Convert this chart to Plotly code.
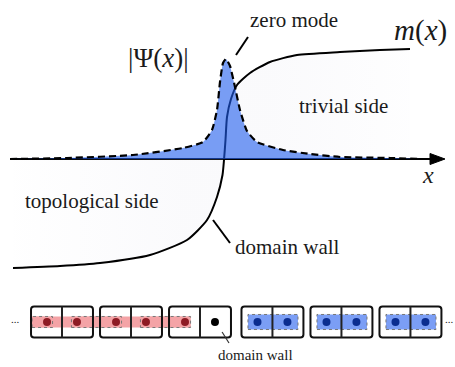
import plotly.graph_objects as go

# ---------------------------------------------------------------------------
# Continuum picture: x measured from the domain wall, y measured from the x-axis
# ---------------------------------------------------------------------------
# mass profile m(x), changing sign at the wall
m_x = [-213, -166, -126, -76, -39, -19, -9, -3.5, -2, -0.5, 1, 5, 11, 24, 44, 71, 114, 154, 184]
m_y = [-109, -107, -104, -96, -81, -61, -38, -16, -1, 19, 42, 60, 74, 86, 97, 104, 107, 109, 110]

# zero-mode amplitude |Psi(x)|, localized at the wall
psi_x = [-216, -159, -93, -43, -23, -14, -9, -6, -3, 0, 4, 9, 14, 21, 31, 57, 84, 114, 164, 194]
psi_y = [0, 1, 4, 11, 17, 29, 49, 77, 96, 100, 93, 72, 49, 28, 17, 9, 5, 2, 1, 0]

# ---------------------------------------------------------------------------
# Lattice picture: a chain of two-site unit cells
# ---------------------------------------------------------------------------
cell_phase = ["topological", "topological", "wall", "trivial", "trivial", "trivial"]

SERIF = "Liberation Serif"
TEXT = "#1a1a1a"
RED_FILL = "#f4a3a6"
RED_DOT = "#8e1b24"
BLUE_FILL = "#7b9ef5"
BLUE_DOT = "#0b2d8f"

fig = go.Figure()

# m(x) with a faint shading between the curve and the axis
fig.add_trace(go.Scatter(
    x=m_x, y=m_y, mode="lines",
    line=dict(color="black", width=2, shape="spline", smoothing=0.6),
    fill="tozeroy",
    fillgradient=dict(
        type="horizontal", start=-226, stop=229,
        colorscale=[[0, "rgba(215,215,232,0)"], [0.4, "rgba(215,215,232,0.12)"],
                    [0.6, "rgba(215,215,232,0.12)"], [1, "rgba(215,215,232,0)"]],
    ),
    hoverinfo="skip", showlegend=False, xaxis="x", yaxis="y",
))

# |Psi(x)|: translucent blue area with a dashed outline
fig.add_trace(go.Scatter(
    x=psi_x, y=psi_y, mode="lines",
    line=dict(color="black", width=2.2, dash="7px,4px", shape="spline", smoothing=0.5),
    fill="tozeroy", fillcolor="rgba(30,92,236,0.6)",
    hoverinfo="skip", showlegend=False, xaxis="x", yaxis="y",
))

shapes = []
# x-axis with arrowhead
shapes.append(dict(type="line", xref="x", yref="y", x0=-216, y0=0, x1=208, y1=0,
                   line=dict(color="black", width=2), layer="below"))
shapes.append(dict(type="path", xref="x", yref="y", path="M 204,5.5 L 219,0 L 204,-5.5 Z",
                   fillcolor="black", line=dict(color="black", width=1), layer="above"))
# leader lines
shapes.append(dict(type="line", xref="x", yref="y", x0=22, y0=122, x1=10, y1=104,
                   line=dict(color="black", width=2)))
shapes.append(dict(type="line", xref="x", yref="y", x0=-13, y0=-61, x1=4, y1=-84,
                   line=dict(color="black", width=2)))

# ----- chain geometry (units of one cell pitch) -----
half_w, half_h = 0.449, 0.2246
site_off = 0.217
radius = 0.045
wall_idx = cell_phase.index("wall")
centers = [i + (0.05 if i > wall_idx else 0.0) for i in range(len(cell_phase))]


def rounded_rect(x0, y0, x1, y1, r):
    return (f"M {x0 + r},{y0} L {x1 - r},{y0} Q {x1},{y0} {x1},{y0 + r} "
            f"L {x1},{y1 - r} Q {x1},{y1} {x1 - r},{y1} L {x0 + r},{y1} "
            f"Q {x0},{y1} {x0},{y1 - r} L {x0},{y0 + r} Q {x0},{y0} {x0 + r},{y0} Z")


# inter-cell dimers on the topological side (pink strip + dotted outlines)
topo_cells = [i for i, p in enumerate(cell_phase) if p in ("topological", "wall")]
pad, sh = 0.08, 0.08
strip_x0 = centers[topo_cells[0]] - half_w - 0.015
strip_x1 = centers[topo_cells[-1]] - site_off + pad
shapes.append(dict(type="rect", xref="x2", yref="y2", x0=strip_x0, x1=strip_x1, y0=-sh, y1=sh,
                   fillcolor=RED_FILL, line=dict(width=0), layer="below"))
# dimer entering the first cell from the left
shapes.append(dict(type="rect", xref="x2", yref="y2",
                   x0=strip_x0 + 0.03, x1=centers[topo_cells[0]] - site_off + pad, y0=-sh, y1=sh,
                   fillcolor=RED_FILL, line=dict(color="#777", width=1, dash="dot"), layer="below"))
for a, b in zip(topo_cells[:-1], topo_cells[1:]):
    shapes.append(dict(type="rect", xref="x2", yref="y2",
                       x0=centers[a] + site_off - pad, x1=centers[b] - site_off + pad, y0=-sh, y1=sh,
                       fillcolor=RED_FILL, line=dict(color="#777", width=1, dash="dot"), layer="below"))

# intra-cell dimers on the trivial side
for i, p in enumerate(cell_phase):
    if p == "trivial":
        shapes.append(dict(type="rect", xref="x2", yref="y2",
                           x0=centers[i] - 0.355, x1=centers[i] + 0.37, y0=-0.109, y1=0.109,
                           fillcolor=BLUE_FILL, line=dict(color="#777", width=1, dash="dot"),
                           layer="below"))

# unit-cell boxes and the divider between the two sites
for c in centers:
    shapes.append(dict(type="path", xref="x2", yref="y2",
                       path=rounded_rect(c - half_w, -half_h, c + half_w, half_h, radius),
                       line=dict(color="#111", width=2), layer="below"))
    shapes.append(dict(type="line", xref="x2", yref="y2", x0=c, x1=c, y0=-half_h, y1=half_h,
                       line=dict(color="#222", width=2), layer="below"))

# leader from the unpaired site
shapes.append(dict(type="line", xref="x2", yref="y2", x0=2.32, y0=-0.145, x1=2.42, y1=-0.304,
                   line=dict(color="#333", width=1.2)))

# lattice sites
dot_x, dot_c = [], []
for i, p in enumerate(cell_phase):
    for k, s in enumerate((-site_off, site_off)):
        dot_x.append(centers[i] + s)
        if p == "trivial":
            dot_c.append(BLUE_DOT)
        elif p == "wall" and k == 1:
            dot_c.append("black")
        else:
            dot_c.append(RED_DOT)
fig.add_trace(go.Scatter(
    x=dot_x, y=[0] * len(dot_x), mode="markers",
    marker=dict(size=8, color=dot_c, line=dict(width=0)),
    hoverinfo="skip", showlegend=False, xaxis="x2", yaxis="y2",
))

annotations = [
    dict(x=-68, y=101, text="|Ψ(<i>x</i>)|", font=dict(family=SERIF, size=27, color=TEXT)),
    dict(x=194, y=129, text="<i>m</i>(<i>x</i>)", font=dict(family=SERIF, size=29, color=TEXT)),
    dict(x=68, y=139, text="zero mode", font=dict(family=SERIF, size=21, color=TEXT)),
    dict(x=117, y=53, text="trivial side", font=dict(family=SERIF, size=21, color=TEXT)),
    dict(x=-134, y=-42, text="topological side", font=dict(family=SERIF, size=21, color=TEXT)),
    dict(x=7, y=-88, text="domain wall", xanchor="left", font=dict(family=SERIF, size=21, color=TEXT)),
    dict(x=202, y=-16, text="<i>x</i>", font=dict(family=SERIF, size=24, color=TEXT)),
]
for a in annotations:
    a.update(xref="x", yref="y", showarrow=False)
annotations += [
    dict(x=2.81, y=-0.478, xref="x2", yref="y2", text="domain wall", showarrow=False,
         font=dict(family=SERIF, size=15, color=TEXT)),
    dict(x=-0.68, y=0.04, xref="x2", yref="y2", text="...", showarrow=False,
         font=dict(family=SERIF, size=11, color=TEXT)),
    dict(x=5.62, y=0.04, xref="x2", yref="y2", text="...", showarrow=False,
         font=dict(family=SERIF, size=11, color=TEXT)),
]

hidden = dict(visible=False, showgrid=False, zeroline=False, fixedrange=True)
fig.update_layout(
    width=455, height=367,
    margin=dict(l=0, r=0, t=0, b=0),
    paper_bgcolor="white", plot_bgcolor="white",
    xaxis=dict(range=[-226, 229], domain=[0, 1], **hidden),
    yaxis=dict(range=[-208, 159], domain=[0, 1], **hidden),
    xaxis2=dict(range=[-62 / 69, 393 / 69], domain=[0, 1], overlaying="x", anchor="y2", **hidden),
    yaxis2=dict(range=[-45 / 69, 322 / 69], domain=[0, 1], overlaying="y", anchor="x2", **hidden),
    shapes=shapes,
    annotations=annotations,
    showlegend=False,
)

fig.write_html("out.html", config=dict(displayModeBar=False, staticPlot=True))
